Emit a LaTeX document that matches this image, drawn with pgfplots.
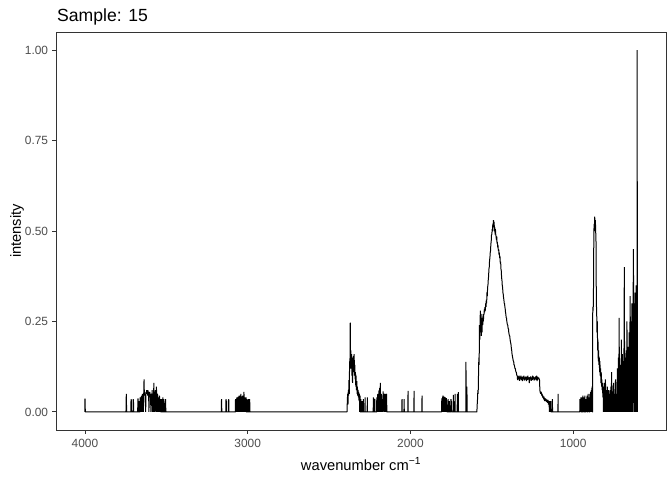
\documentclass[border=0pt]{standalone}
\usepackage{pgfplots}
\pgfplotsset{compat=1.18}
\usepackage{fontspec}
\setmainfont{Liberation Sans}
\definecolor{grey20}{HTML}{333333}
\definecolor{grey30}{HTML}{4D4D4D}
\begin{document}
\begin{tikzpicture}
\begin{axis}[
    name=ax,
    scale only axis,
    width=610pt, height=398pt,
    x dir=reverse,
    xmin=430, xmax=4178,
    ymin=-0.05, ymax=1.05,
    xtick={1000,2000,3000,4000},
    xticklabels={1000,2000,3000,4000},
    ytick={0,0.25,0.5,0.75,1},
    yticklabels={0.00,0.25,0.50,0.75,1.00},
    axis line style={grey20, line width=0.9pt},
    tick style={grey20, line width=0.9pt},
    major tick length=3.7pt,
    tick align=outside,
    xtick pos=bottom, ytick pos=left,
    ticklabel style={font=\fontsize{11.9}{12}\selectfont, text=grey30},
    xticklabel style={inner sep=0pt, yshift=-5pt},
    yticklabel style={inner sep=0pt, xshift=-4pt},
]
\addplot[black, line width=1pt, line join=bevel] coordinates {
(4000,0)(4000,0.036)(3999,0.036)(3998,0)
(3748,0)(3746,0.05)(3744,0)
(3718,0)(3717,0.034)(3715,0.034)(3714,0)(3705,0)(3704,0.034)(3702,0.034)(3701,0)
(3676,0)(3675,0.036)(3673,0.036)(3672,0)(3668,0)(3667,0.03)(3665,0)(3662,0)(3661,0.04)(3659,0.035)(3657,0)
(3655,0.042)(3653,0.03)(3651,0.045)(3649,0)(3647,0.05)(3645,0.04)(3643,0.05)(3641,0)(3639,0.048)(3637,0.09)
(3635,0.045)(3633,0.05)(3631,0.045)(3629,0.05)(3627,0)(3625,0.055)(3623,0.05)(3621,0.06)(3619,0.05)(3617,0.058)
(3615,0.045)(3613,0.06)(3611,0.05)(3609,0.055)(3607,0)(3605,0.05)(3603,0.045)(3601,0.055)(3599,0.04)(3597,0.05)
(3595,0)(3593,0.045)(3591,0.05)(3589,0.04)(3587,0.06)(3585,0)(3583,0.045)(3581,0.05)(3579,0)(3577,0.08)
(3575,0.04)(3573,0)(3571,0.05)(3569,0.04)(3567,0.06)(3565,0)(3563,0.045)(3561,0.07)(3559,0.04)(3557,0)
(3555,0.05)(3553,0.045)(3551,0)(3549,0.04)(3547,0.035)(3545,0)(3543,0.045)(3541,0.04)(3539,0)(3536,0.035)
(3534,0)(3530,0)(3529,0.035)(3527,0)(3522,0)(3521,0.04)(3519,0)(3516,0)(3515,0.035)(3513,0)(3506,0)(3505,0.035)(3503,0)
(3162,0)(3161,0.035)(3159,0)(3135,0)(3134,0.034)(3132,0.034)(3131,0)(3119,0)(3118,0.034)(3116,0.034)(3115,0)
(3076,0)(3075,0.035)(3073,0.03)(3071,0)(3068,0.035)(3066,0.04)(3064,0)(3062,0.04)(3060,0.035)(3058,0.042)
(3056,0)(3054,0.04)(3052,0.045)(3050,0.04)(3048,0)(3046,0.045)(3044,0.04)(3042,0.05)(3040,0)(3038,0.042)
(3036,0.04)(3034,0)(3032,0.045)(3030,0.04)(3028,0.045)(3026,0)(3024,0.055)(3022,0.045)(3020,0)(3017,0.04)
(3015,0.035)(3013,0)(3010,0.04)(3008,0)(3004,0)(3003,0.035)(3001,0)(2996,0)(2995,0.035)(2993,0)(2989,0)(2988,0.035)(2986,0)
(2390,0)(2388,0.03)(2386,0.05)(2384,0.02)(2382,0.06)(2380,0.045)(2378,0.088)(2376,0.05)(2374,0.14)(2372,0.12)
(2370,0.247)(2368,0.12)(2366,0.17)(2364,0.13)(2362,0.16)(2360,0.10)(2358,0.12)(2356,0.08)(2354,0.15)(2352,0.11)
(2350,0.155)(2348,0.12)(2346,0.16)(2344,0.10)(2342,0.13)(2340,0.09)(2338,0.11)(2336,0.07)(2334,0.10)(2332,0.06)
(2330,0.085)(2328,0.05)(2326,0.07)(2324,0.045)(2322,0.06)(2320,0.04)(2318,0.055)(2316,0.03)(2314,0.05)(2312,0)
(2310,0.045)(2308,0)(2306,0)(2305,0.035)(2304,0)(2299,0)(2298,0.03)(2297,0)(2291,0)(2290,0.035)(2289,0)
(2280,0)(2279,0.04)(2278,0)(2266,0)(2265,0.04)(2264,0)
(2229,0)(2228,0.04)(2227,0)(2222,0)(2221,0.035)(2219,0.035)(2218,0)
(2208,0)(2207,0.04)(2205,0.03)(2203,0)(2201,0.05)(2199,0.04)(2197,0)(2195,0.045)(2193,0.06)(2191,0)
(2189,0.066)(2187,0.05)(2185,0.08)(2183,0)(2181,0.04)(2179,0.05)(2177,0)(2174,0.035)(2172,0)(2168,0.057)
(2166,0.04)(2164,0)(2161,0.05)(2159,0.045)(2157,0)(2155,0.05)(2153,0.04)(2151,0)(2149,0.045)(2147,0.05)(2145,0)
(2053,0)(2052,0.035)(2051,0)(2040,0)(2039,0.035)(2038,0)(2016,0)(2015,0.058)(2014,0)(1979,0)(1978,0.058)(1977,0)
(1930,0)(1929,0.045)(1928,0)
(1809,0)(1808,0.03)(1806,0.038)(1804,0)(1802,0.04)(1800,0.045)(1798,0.04)(1796,0)(1794,0.042)(1792,0.04)
(1790,0.038)(1788,0)(1786,0.04)(1784,0.035)(1782,0)(1780,0.038)(1778,0.03)(1776,0)(1770,0)(1769,0.035)
(1767,0)(1762,0)(1761,0.03)(1759,0)(1752,0)(1751,0.035)(1749,0)(1748,0.03)(1746,0)
(1737,0)(1736,0.047)(1735,0)(1727,0)(1726,0.05)(1725,0)(1713,0)(1712,0.05)(1711,0)(1707,0)(1706,0.055)(1705,0)
(1660,0)(1659,0.138)(1658,0)(1654,0)(1653,0.07)(1652,0)
(1592,0)(1590,0.02)(1588,0.035)(1586,0.06)(1584,0.05)(1582,0.10)(1580,0.15)(1578,0.13)(1576,0.24)(1574,0.20)
(1572,0.26)(1570,0.28)(1568,0.22)(1566,0.27)(1564,0.21)(1562,0.26)(1560,0.22)(1558,0.26)(1556,0.24)(1554,0.27)
(1552,0.25)(1550,0.27)(1548,0.27)(1546,0.285)(1544,0.275)(1542,0.29)(1540,0.28)(1538,0.30)(1536,0.29)(1534,0.31)
(1532,0.30)(1530,0.33)(1528,0.32)(1526,0.345)(1524,0.35)(1522,0.365)(1520,0.375)(1518,0.395)(1516,0.40)(1514,0.42)
(1512,0.425)(1510,0.44)(1508,0.445)(1506,0.465)(1504,0.47)(1502,0.49)(1500,0.49)(1498,0.505)(1496,0.50)(1494,0.52)
(1492,0.51)(1490,0.53)(1488,0.515)(1486,0.525)(1484,0.50)(1482,0.51)(1480,0.49)(1478,0.505)(1476,0.49)(1474,0.485)
(1472,0.475)(1470,0.485)(1468,0.465)(1466,0.47)(1464,0.455)(1462,0.46)(1460,0.445)(1458,0.45)(1456,0.435)(1454,0.44)
(1452,0.425)(1450,0.43)(1448,0.41)(1446,0.415)(1444,0.395)(1442,0.39)(1440,0.37)(1438,0.365)(1436,0.35)(1434,0.345)
(1432,0.33)(1430,0.325)(1428,0.315)(1426,0.31)(1424,0.30)(1422,0.30)(1420,0.29)(1418,0.285)(1416,0.275)(1414,0.27)
(1412,0.26)(1410,0.26)(1408,0.25)(1406,0.245)(1404,0.24)(1402,0.24)(1400,0.23)(1398,0.23)(1396,0.22)(1394,0.215)
(1392,0.21)(1390,0.21)(1388,0.20)(1386,0.195)(1384,0.19)(1382,0.185)(1380,0.175)(1378,0.17)(1376,0.16)(1374,0.155)
(1372,0.15)(1370,0.145)(1368,0.14)(1366,0.14)(1364,0.13)(1362,0.13)(1360,0.125)(1358,0.12)(1356,0.12)(1354,0.115)
(1352,0.11)(1350,0.11)(1348,0.105)(1346,0.10)(1344,0.10)
(1342,0.088)(1339,0.098)(1336,0.09)(1333,0.1)(1330,0.086)(1327,0.097)(1324,0.09)(1321,0.1)(1318,0.088)(1315,0.096)
(1312,0.085)(1309,0.098)(1306,0.09)(1303,0.1)(1300,0.087)(1297,0.095)(1294,0.09)(1291,0.098)(1288,0.085)(1285,0.097)
(1282,0.088)(1279,0.1)(1276,0.09)(1273,0.095)(1270,0.08)(1267,0.096)(1264,0.09)(1261,0.098)(1258,0.086)(1255,0.095)
(1252,0.088)(1249,0.1)(1246,0.09)(1243,0.097)(1240,0.087)(1237,0.095)(1234,0.09)(1231,0.098)(1228,0.088)(1225,0.1)
(1222,0.085)(1219,0.097)(1216,0.09)(1213,0.095)(1210,0.092)(1207,0.088)(1205,0.06)(1203,0.055)(1200,0.05)(1197,0.056)
(1194,0.045)(1191,0.05)(1188,0.04)(1185,0.045)(1182,0.035)(1179,0.042)(1176,0.03)(1173,0.038)(1170,0.03)(1167,0.036)
(1164,0.028)(1161,0.034)(1158,0.025)(1155,0.033)(1152,0.02)(1149,0.03)(1146,0)(1145,0.03)(1144,0)(1142,0.025)
(1140,0)(1138,0.03)(1136,0)(1129,0)(1128,0.035)(1127,0)
(1094,0)(1093,0.05)(1092,0)
(960,0)(959,0.035)(958,0)(953,0.04)(952,0)(949,0)(948,0.04)(947,0.038)(946,0)(942,0)(941,0.045)(940,0)
(936,0.04)(935,0)(930,0)(929,0.045)(928,0.04)(927,0)(922,0)(921,0.035)(920,0)(915,0.045)(914,0)(910,0)
(909,0.05)(908,0.045)(907,0)(903,0.04)(902,0)(898,0)(897,0.05)(896,0)(893,0.055)(892,0.05)(891,0)(888,0.06)
(887,0)(885,0.065)(883,0.07)(882,0)
(881,0)(880,0.29)(878,0.28)(876,0.30)(874,0.45)(872,0.52)(870,0.50)(868,0.54)(866,0.51)(864,0.53)(862,0.50)
(860,0.47)(858,0.30)(856,0.28)(854,0.22)(852,0.25)(850,0.17)(848,0.2)(846,0.14)(844,0.17)(842,0.13)(840,0.15)
(838,0.11)(836,0.14)(834,0.10)(832,0.12)(830,0.08)(828,0.11)(826,0.07)(824,0.09)(822,0.06)(820,0.08)(818,0.04)
(816,0.07)(814,0)(812,0.06)(810,0.03)(808,0.08)(806,0)(804,0.05)(802,0.09)(800,0)(798,0.06)(796,0.04)(794,0)
(792,0.05)(790,0.07)(788,0)(786,0.04)(784,0.06)(782,0)(780,0.05)(778,0.03)(776,0)(774,0.06)(772,0.05)(770,0)
(768,0.07)(766,0.04)(764,0.11)(762,0)(760,0.05)(758,0.03)(756,0)(754,0.06)(752,0.08)(750,0)(748,0.05)(746,0.04)
(744,0)(742,0.06)(740,0.09)(738,0)(736,0.05)(734,0.03)(732,0)(730,0.07)(728,0.12)(726,0)(724,0.08)(722,0.15)
(720,0)(718,0.26)(716,0.05)(714,0)(712,0.10)(710,0.13)(708,0)(706,0.09)(704,0.20)(702,0)(700,0.12)(698,0.16)
(696,0)(694,0.10)(692,0.14)(690,0)(688,0.18)(686,0.40)(684,0)(682,0.15)(680,0.12)(678,0)(676,0.10)(674,0.17)
(672,0)(670,0.25)(668,0.13)(666,0)(664,0.12)(662,0.18)(660,0)(658,0.15)(656,0.22)(654,0)(652,0.20)(650,0.32)
(648,0)(646,0.25)(644,0.18)(642,0)(640,0.30)(638,0.22)(636,0)(634,0.28)(632,0.30)(630,0.45)(628,0)(626,0.30)
(624,0.25)(622,0)(620,0.33)(618,0.28)(616,0)(614,0.35)(612,0.30)(610,0)(609,0.30)(608,0)(607,1.0)(606,0)
};
\end{axis}
\node[anchor=base west, inner sep=0pt, font=\fontsize{17.6}{20}\selectfont] at ([xshift=1pt,yshift=10pt]ax.north west) {Sample: 15};
\node[anchor=base, inner sep=0pt, font=\fontsize{14.7}{16}\selectfont] at ([yshift=-40pt]ax.south) {wavenumber cm\textsuperscript{−1}};
\node[anchor=base, rotate=90, inner sep=0pt, font=\fontsize{14.7}{16}\selectfont] at ([xshift=-35pt]ax.west) {intensity};
\pgfresetboundingbox
\path ([xshift=-56pt,yshift=-50pt]ax.south west) rectangle ([xshift=6pt,yshift=32pt]ax.north east);
\end{tikzpicture}
\end{document}
